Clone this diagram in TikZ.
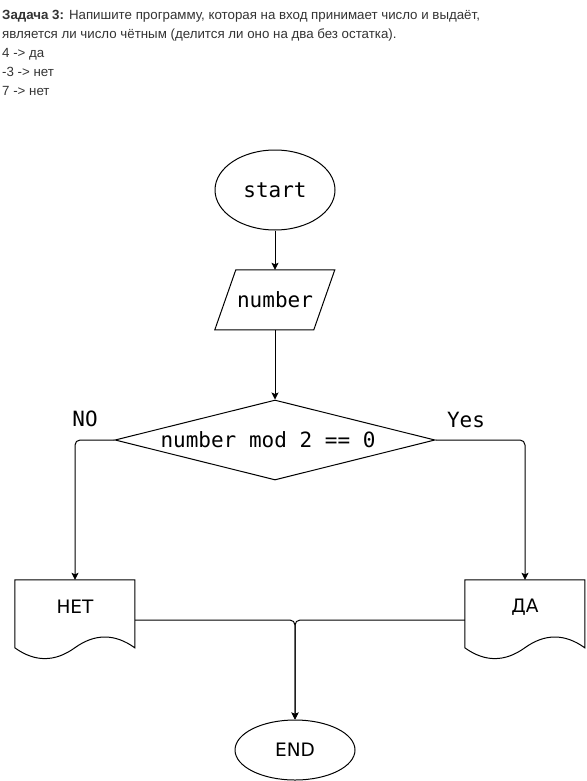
\documentclass[tikz,border=0pt]{standalone}
\usepackage{fontspec}
\setmainfont{Liberation Sans}
\setmonofont{DejaVu Sans Mono}
\newfontfamily\dvs{DejaVu Sans}
\usetikzlibrary{shapes.geometric,arrows.meta}
\definecolor{hdrcol}{HTML}{333333}
\tikzset{
  hdr/.style={anchor=base west, inner sep=0pt, text=hdrcol, font=\fontsize{13.3}{16}\selectfont},
  lbl/.style={inner sep=0pt, font=\ttfamily\fontsize{21}{24}\selectfont},
  doclbl/.style={inner sep=0pt, font=\dvs\fontsize{18.5}{22}\selectfont},
  term/.style={ellipse, draw, line width=1pt, inner sep=0pt},
  box/.style={inner sep=0pt, minimum width=120pt},
  arr/.style={line width=1pt, -{Stealth[length=7pt,width=7pt,inset=1.5pt]}},
  shp/.style={line width=1pt}
}
\begin{document}
\begin{tikzpicture}[x=1pt,y=-1pt]
\useasboundingbox (0,0) rectangle (586,781);
% header
\node[hdr] (h1) at (2,20) {\textbf{Задача 3:} Напишите программу, которая на вход принимает число и выдаёт,};
\node[hdr] (h2) at (2,39) {является ли число чётным (делится ли оно на два без остатка).};
\node[hdr] (h3) at (2,58) {4 -> да};
\node[hdr] (h4) at (2,77) {-3 -> нет};
\node[hdr] (h5) at (2,96) {7 -> нет};
% start
\node[term, minimum width=120pt, minimum height=80pt, font=\ttfamily\fontsize{21}{24}\selectfont] (start) at (275,190) {start};
% input
\node[box, minimum height=60pt, font=\ttfamily\fontsize{21}{24}\selectfont] (num) at (275,300) {number};
\draw[shp, shift={(num.north west)}] (21,0) -- (120,0) -- (99,60) -- (0,60) -- cycle;
% decision
\node[diamond, draw, line width=1pt, inner sep=0pt, minimum width=320pt, minimum height=80pt] (dec) at (275,440) {};
\node[lbl] (dect) at (268,440) {number mod 2 == 0};
\node[lbl] (no) at (85,419) {NO};
\node[lbl] (yes) at (466,420) {Yes};
% documents
\node[box, minimum height=80pt] (net) at (75,620) {};
\draw[shp, shift={(net.north west)}] (0,0) -- (120,0) -- (120,68) .. controls (100,53.6) and (80,53.6) .. (60,68) .. controls (40,82.4) and (20,82.4) .. (0,68) -- cycle;
\node[doclbl] (nett) at (75,607) {НЕТ};
\node[box, minimum height=80pt] (da) at (525,620) {};
\draw[shp, shift={(da.north west)}] (0,0) -- (120,0) -- (120,68) .. controls (100,53.6) and (80,53.6) .. (60,68) .. controls (40,82.4) and (20,82.4) .. (0,68) -- cycle;
\node[doclbl] (dat) at (525,607) {ДА};
% end
\node[term, minimum width=120pt, minimum height=60pt, font=\dvs\fontsize{18.5}{22}\selectfont] (end) at (295,750) {END};
% connectors
\draw[arr] (start.south) -- (num.north);
\draw[arr] (num.south) -- (dec.north);
\draw[arr, rounded corners=5pt] (dec.west) -| (net.north);
\draw[arr, rounded corners=5pt] (dec.east) -| (da.north);
\draw[arr, rounded corners=5pt] (net.east) -| (end.north);
\draw[arr, rounded corners=5pt] (da.west) -| (end.north);
\end{tikzpicture}
\end{document}
